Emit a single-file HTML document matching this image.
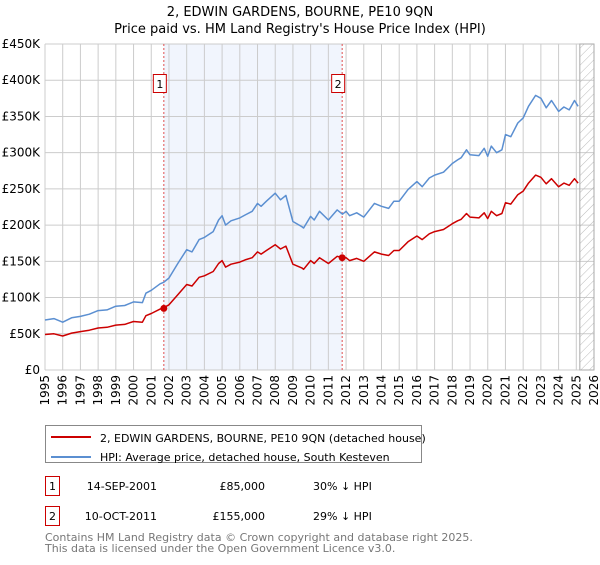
<!DOCTYPE html>
<html><head><meta charset="utf-8"><style>
body{margin:0;background:#fff;font-family:"Liberation Sans","DejaVu Sans",sans-serif;}
svg text{font-family:"DejaVu Sans","Liberation Sans",sans-serif;}
</style></head><body>
<svg id="chart" width="600" height="560" viewBox="0 0 600 560">
<defs><pattern id="hatch" width="6" height="6" patternUnits="userSpaceOnUse" patternTransform="rotate(45)"><line x1="0" y1="0" x2="0" y2="6" stroke="#bbb" stroke-width="1"/></pattern></defs>
<text x="300" y="16" text-anchor="middle" font-size="13">2, EDWIN GARDENS, BOURNE, PE10 9QN</text>
<text x="300" y="33" text-anchor="middle" font-size="13">Price paid vs. HM Land Registry's House Price Index (HPI)</text>
<g id="plot"></g>
<g>
<rect x="45.5" y="425.5" width="376" height="37" fill="#fff" stroke="#888"/>
<line x1="51" y1="437" x2="91" y2="437" stroke="#cc0000" stroke-width="2"/>
<text x="100" y="442" font-size="11">2, EDWIN GARDENS, BOURNE, PE10 9QN (detached house)</text>
<line x1="51" y1="457" x2="91" y2="457" stroke="#5b8fd1" stroke-width="2"/>
<text x="100" y="461" font-size="11">HPI: Average price, detached house, South Kesteven</text>
</g>
<g font-size="11">
<rect x="45.5" y="476.5" width="14" height="19" fill="#fff" stroke="#cc0000"/>
<text x="52.5" y="490" text-anchor="middle">1</text>
<text x="157" y="490" text-anchor="end">14-SEP-2001</text>
<text x="265" y="490" text-anchor="end">£85,000</text>
<text x="313" y="490">30% ↓ HPI</text>
<rect x="45.5" y="506.5" width="14" height="19" fill="#fff" stroke="#cc0000"/>
<text x="52.5" y="520" text-anchor="middle">2</text>
<text x="157" y="520" text-anchor="end">10-OCT-2011</text>
<text x="265" y="520" text-anchor="end">£155,000</text>
<text x="313" y="520">29% ↓ HPI</text>
</g>
<text x="45" y="541" font-size="11" fill="#777">Contains HM Land Registry data © Crown copyright and database right 2025.</text>
<text x="45" y="552" font-size="11" fill="#777">This data is licensed under the Open Government Licence v3.0.</text>
</svg>
<script>
const years=[1995.0,1995.5,1996.0,1996.5,1997.0,1997.5,1998.0,1998.5,1999.0,1999.5,2000.0,2000.5,2000.7,2001.0,2001.5,2001.7,2002.0,2002.5,2003.0,2003.3,2003.7,2004.0,2004.5,2004.8,2005.0,2005.2,2005.5,2006.0,2006.3,2006.7,2007.0,2007.2,2007.5,2008.0,2008.3,2008.6,2009.0,2009.5,2009.6,2010.0,2010.2,2010.5,2011.0,2011.5,2011.8,2012.0,2012.2,2012.6,2013.0,2013.6,2014.0,2014.4,2014.7,2015.0,2015.5,2016.0,2016.3,2016.7,2017.0,2017.5,2018.0,2018.3,2018.5,2018.8,2019.0,2019.5,2019.8,2020.0,2020.2,2020.5,2020.8,2021.0,2021.3,2021.7,2022.0,2022.3,2022.7,2023.0,2023.3,2023.6,2024.0,2024.3,2024.6,2024.9,2025.1];
const hpiValues=[69,71,66,72,74,77,82,83,88,89,94,93,106,110,119,121,127,147,166,163,180,183,191,207,213,200,206,210,214,219,230,226,233,244,235,241,205,198,196,212,207,219,207,221,215,219,213,217,211,230,226,223,233,233,249,260,253,265,269,273,285,290,293,304,297,296,306,295,309,300,304,325,322,341,348,364,379,375,362,372,357,363,359,372,364];
const propertyValues=[49,50,47,51,53,55,58,59,62,63,67,66,75,78,84,86,90,104,118,116,128,130,136,147,151,142,146,149,152,155,163,160,165,173,167,171,146,141,139,151,147,155,147,157,155,155,151,154,150,163,160,158,165,165,177,185,180,188,191,194,202,206,208,216,211,210,217,209,219,213,216,231,229,242,247,258,269,266,257,264,253,258,255,264,258];
const saleYears=[2001.71,2011.78];
const saleValues=[85,155];
const saleLabels=["1","2"];
const yTicks=[0,50,100,150,200,250,300,350,400,450];
const yTickLabels=["£0","£50K","£100K","£150K","£200K","£250K","£300K","£350K","£400K","£450K"];
const xTicks=[1995,1996,1997,1998,1999,2000,2001,2002,2003,2004,2005,2006,2007,2008,2009,2010,2011,2012,2013,2014,2015,2016,2017,2018,2019,2020,2021,2022,2023,2024,2025,2026];
const dataEnd=2025.2;

const X0=45,X1=594,Y0=370,Y1=44;
const xs=y=>X0+(y-1995)/(2026-1995)*(X1-X0);
const ys=v=>Y0-v/450*(Y0-Y1);
const NS="http://www.w3.org/2000/svg";
const plot=document.getElementById('plot');
function mk(tag,attrs){const e=document.createElementNS(NS,tag);for(const k in attrs)e.setAttribute(k,attrs[k]);plot.appendChild(e);return e;}

let r=mk('rect',{x:xs(saleYears[0]),y:Y1,width:xs(saleYears[1])-xs(saleYears[0]),height:Y0-Y1,fill:'#eef3fc',opacity:0.8});


xTicks.forEach(t=>{
  const l=mk('line',{x1:xs(t),x2:xs(t),y1:Y1,y2:Y0,stroke:'#cccccc','stroke-width':1});
  
  
  const tx=mk('text',{x:0,y:0,'font-size':12,'text-anchor':'end',transform:`translate(${xs(t)+4},${Y0+5}) rotate(-90)`});
  tx.textContent=t;
  
  
});
yTicks.forEach((t,i)=>{
  const l=mk('line',{x1:X0,x2:X1,y1:ys(t),y2:ys(t),stroke:'#cccccc','stroke-width':1});
  
  
  const tx=mk('text',{x:X0-5,y:ys(t)+4,'font-size':12,'text-anchor':'end'});
  tx.textContent=yTickLabels[i];
  
  
});
const h=mk('rect',{x:xs(dataEnd),y:Y1,width:X1-xs(dataEnd),height:Y0-Y1,fill:'url(#hatch)',stroke:'#aaa'});


saleYears.forEach((s,i)=>{
  const l=mk('line',{x1:xs(s),x2:xs(s),y1:Y1,y2:Y0,stroke:'#e05050','stroke-width':1,'stroke-dasharray':'2,2'});
  
  
  const b=mk('rect',{x:xs(s)-10.5,y:74.5,width:13,height:18,fill:'#fff',stroke:'#cc0000'});
  
  
  const t=mk('text',{x:xs(s)-4,y:88,'font-size':11,'text-anchor':'middle'});
  t.textContent=saleLabels[i];
  
  
});
function line(vals,color,name){
  const p=mk('path',{d:vals.map((v,i)=>(i?'L':'M')+xs(years[i]).toFixed(1)+','+ys(v).toFixed(1)).join(''),fill:'none',stroke:color,'stroke-width':1.5,'stroke-linejoin':'round'});
  
  
}
line(hpiValues,'#5b8fd1','hpi-line');
line(propertyValues,'#cc0000','property-line');
saleYears.forEach((s,i)=>{
  const c=mk('circle',{cx:xs(s),cy:ys(saleValues[i]),r:3.5,fill:'#cc0000'});
  
  
});
</script>
</body></html>
